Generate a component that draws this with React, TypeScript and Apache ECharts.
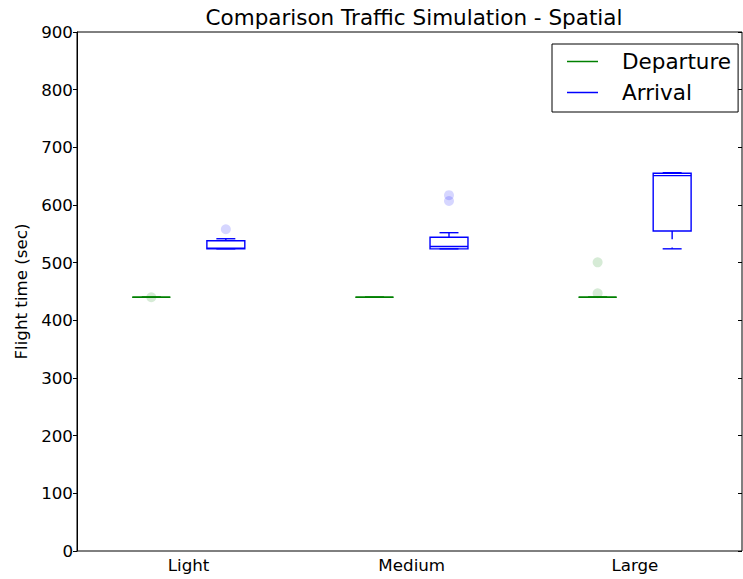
import { useEffect, useRef } from "react";
import * as echarts from "echarts";

// Flight-time box statistics per traffic level: [min, Q1, median, Q3, max] (sec)
const categories = ["Light", "Medium", "Large"];
const departureStats = [
  [440, 440, 440, 440, 440],
  [440, 440, 440, 440, 440],
  [440, 440, 440, 440, 440],
];
const arrivalStats = [
  [524, 524, 525, 538, 541.5],
  [524, 524, 528, 544, 552],
  [524, 555, 651, 655, 656],
];
// Flier points outside the whiskers (sec)
const departureOutliers = [[440], [], [447, 500.6]];
const arrivalOutliers = [[558], [617, 607], []];

const yMin = 0;
const yMax = 900;
const yStep = 100;

const FONT = "DejaVu Sans";
const GREEN = "#008000";
const BLUE = "#0000ff";
const GROUP_OFFSET = 0.167; // shift of each box from its category centre
const BOX_HALF = 0.085; // half box width in axis units
const LW = 1.4;

function boxRenderer(color: string) {
  return (_params: any, api: any) => {
    const x = api.value(0);
    const lo = api.value(1);
    const q1 = api.value(2);
    const med = api.value(3);
    const q3 = api.value(4);
    const hi = api.value(5);
    const px = (v: number) => api.coord([v, med])[0];
    const py = (v: number) => api.coord([x, v])[1];
    const cx = px(x);
    const l = px(x - BOX_HALF);
    const r = px(x + BOX_HALF);
    const cl = px(x - BOX_HALF / 2);
    const cr = px(x + BOX_HALF / 2);
    const solid = { stroke: color, lineWidth: LW, fill: null };
    const dashed = { stroke: color, lineWidth: LW, fill: null, lineDash: [8.3, 8.3] };
    return {
      type: "group",
      children: [
        {
          type: "line",
          shape: { x1: cx, y1: py(q3), x2: cx, y2: py(hi) },
          style: dashed,
        },
        {
          type: "line",
          shape: { x1: cx, y1: py(q1), x2: cx, y2: py(lo) },
          style: dashed,
        },
        {
          type: "polygon",
          shape: {
            points: [
              [l, py(q1)],
              [r, py(q1)],
              [r, py(q3)],
              [l, py(q3)],
            ],
          },
          style: solid,
        },
        {
          type: "line",
          shape: { x1: l, y1: py(med), x2: r, y2: py(med) },
          style: solid,
        },
        {
          type: "line",
          shape: { x1: cl, y1: py(hi), x2: cr, y2: py(hi) },
          style: solid,
        },
        {
          type: "line",
          shape: { x1: cl, y1: py(lo), x2: cr, y2: py(lo) },
          style: solid,
        },
      ],
    };
  };
}

function boxData(stats: number[][], offset: number) {
  return stats.map((s, i) => [i + 1 + offset, ...s]);
}

function outlierData(points: number[][], offset: number) {
  const out: number[][] = [];
  points.forEach((vals, i) => vals.forEach((v) => out.push([i + 1 + offset, v])));
  return out;
}

export default function App() {
  const ref = useRef<HTMLDivElement>(null);

  useEffect(() => {
    document.body.style.margin = "0";
    const chart = echarts.init(ref.current!, null, { renderer: "svg" });
    const tickLabelStyle = { fontFamily: FONT, fontSize: 16.7, color: "#000" };
    chart.setOption({
      animation: false,
      backgroundColor: "#fff",
      title: {
        text: "Comparison Traffic Simulation - Spatial",
        left: 414,
        textAlign: "center",
        top: 6,
        padding: 0,
        textStyle: { fontFamily: FONT, fontSize: 21.5, fontWeight: "normal", color: "#000" },
      },
      legend: {
        orient: "vertical",
        left: 552,
        top: 44,
        padding: [6, 7, 8, 15],
        itemGap: 8,
        itemWidth: 31,
        itemHeight: 1.5,
        borderColor: "#000",
        borderWidth: 1,
        borderRadius: 0,
        backgroundColor: "#fff",
        textStyle: {
          fontFamily: FONT,
          fontSize: 21.5,
          lineHeight: 23,
          color: "#000",
          padding: [0, 0, 0, 19],
        },
        data: [
          { name: "Departure", icon: "rect", itemStyle: { color: GREEN } },
          { name: "Arrival", icon: "rect", itemStyle: { color: BLUE } },
        ],
      },
      grid: {
        left: 77,
        right: 1,
        top: 32,
        bottom: 28,
        show: true,
        borderColor: "#000",
        borderWidth: 1,
        backgroundColor: "transparent",
      },
      xAxis: {
        type: "value",
        min: 0.5,
        max: 3.48,
        splitLine: { show: false },
        axisLine: { show: false },
        axisTick: { show: false },
        axisLabel: {
          ...tickLabelStyle,
          margin: 5,
          customValues: [1, 2, 3],
          formatter: (v: number) => categories[Math.round(v) - 1] ?? "",
        },
      },
      yAxis: [
        {
          type: "value",
          position: "left",
          min: yMin,
          max: yMax,
          interval: yStep,
          name: "Flight time (sec)",
          nameLocation: "middle",
          nameGap: 48,
          nameTextStyle: { fontFamily: FONT, fontSize: 16.7, color: "#000" },
          splitLine: { show: false },
          axisLine: { show: true, lineStyle: { color: "#000", width: 1 } },
          axisTick: { show: true, inside: false, length: 4, lineStyle: { color: "#000" } },
          axisLabel: { ...tickLabelStyle, margin: 4 },
        },
        {
          type: "value",
          position: "right",
          min: yMin,
          max: yMax,
          interval: yStep,
          splitLine: { show: false },
          axisLine: { show: false },
          axisTick: { show: true, inside: true, length: 4, lineStyle: { color: "#000" } },
          axisLabel: { show: false },
        },
      ],
      series: [
        {
          name: "Departure",
          type: "custom",
          color: GREEN,
          itemStyle: { color: GREEN },
          renderItem: boxRenderer(GREEN),
          encode: { x: 0, y: [1, 2, 3, 4, 5] },
          data: boxData(departureStats, -GROUP_OFFSET),
          z: 2,
        },
        {
          name: "Arrival",
          type: "custom",
          color: BLUE,
          itemStyle: { color: BLUE },
          renderItem: boxRenderer(BLUE),
          encode: { x: 0, y: [1, 2, 3, 4, 5] },
          data: boxData(arrivalStats, GROUP_OFFSET),
          z: 2,
        },
        {
          name: "Departure fliers",
          type: "scatter",
          symbol: "circle",
          symbolSize: 10,
          itemStyle: { color: "rgba(0,128,0,0.2)" },
          data: outlierData(departureOutliers, -GROUP_OFFSET),
          z: 3,
        },
        {
          name: "Arrival fliers",
          type: "scatter",
          symbol: "circle",
          symbolSize: 10,
          itemStyle: { color: "rgba(0,0,255,0.2)" },
          data: outlierData(arrivalOutliers, GROUP_OFFSET),
          z: 3,
        },
      ],
    });
    return () => chart.dispose();
  }, []);

  return (
    <div
      ref={ref}
      style={{ position: "fixed", left: 0, top: 0, width: 743, height: 579 }}
    />
  );
}
